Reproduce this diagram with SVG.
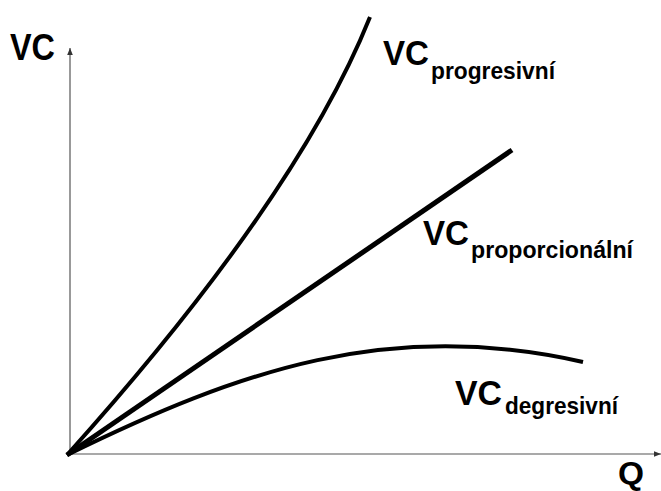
<svg xmlns="http://www.w3.org/2000/svg" width="661" height="491" viewBox="0 0 661 491">
<defs>
<style>
.axis{stroke:#555;stroke-width:1.2;fill:none}
.curve{stroke:#000;stroke-width:4;fill:none;stroke-linecap:butt}
.big{font-family:"Liberation Sans",Arial,sans-serif;font-weight:bold;fill:#000}
.sub{font-family:"Liberation Sans",Arial,sans-serif;font-weight:bold;fill:#000}
</style>
<marker id="arr" viewBox="0 0 10 10" refX="10" refY="5" markerWidth="7" markerHeight="7" markerUnits="userSpaceOnUse" orient="auto">
<path d="M0,1 L10,5 L0,9 Z" fill="#333"/>
</marker>
</defs>
<rect width="661" height="491" fill="#fff"/>
<g id="axes">
<line class="axis" x1="70" y1="455" x2="70" y2="48" marker-end="url(#arr)"/>
<line class="axis" x1="68" y1="454" x2="661" y2="454" marker-end="url(#arr)"/>
</g>
<g id="connectors">
<path id="progresivni" class="curve" d="M67,455 Q297,199 370,17"/>
<path id="proporcionalni" class="curve" style="stroke-width:5" d="M67,455 L512,150"/>
<path id="degresivni" class="curve" d="M67,455 C240,370 390,318 583,362"/>
</g>
<g id="label-vc-axis"><text class="big" x="10" y="60" font-size="37" textLength="45" lengthAdjust="spacingAndGlyphs">VC</text></g>
<g id="label-q-axis"><text class="big" x="618" y="484" font-size="32" textLength="26" lengthAdjust="spacingAndGlyphs">Q</text></g>
<g id="label-progresivni">
<text class="big" x="383" y="65" font-size="35" textLength="46" lengthAdjust="spacingAndGlyphs">VC</text>
<text class="sub" x="431" y="79" font-size="24" textLength="124" lengthAdjust="spacingAndGlyphs">progresivní</text>
</g>
<g id="label-proporcionalni">
<text class="big" x="423" y="245" font-size="35" textLength="46" lengthAdjust="spacingAndGlyphs">VC</text>
<text class="sub" x="471" y="258" font-size="24" textLength="162" lengthAdjust="spacingAndGlyphs">proporcionální</text>
</g>
<g id="label-degresivni">
<text class="big" x="455" y="405" font-size="35" textLength="47" lengthAdjust="spacingAndGlyphs">VC</text>
<text class="sub" x="505" y="414" font-size="24" textLength="113" lengthAdjust="spacingAndGlyphs">degresivní</text>
</g>
</svg>
